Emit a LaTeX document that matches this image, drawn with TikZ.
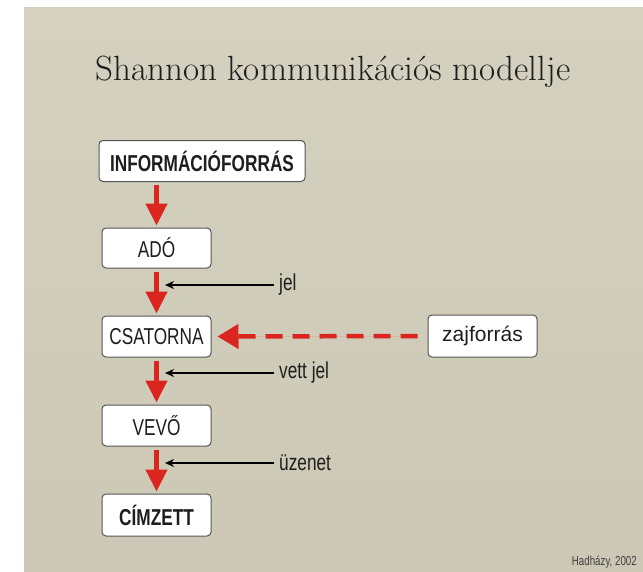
\documentclass[tikz,border=0pt]{standalone}
\usepackage{fontspec}
\usetikzlibrary{arrows.meta}
\newfontfamily\arialfont{Liberation Sans}
\newfontfamily\narrowfont[FakeStretch=0.75]{Liberation Sans}
\definecolor{bgbeige}{RGB}{204,200,181}
\definecolor{bglight}{RGB}{213,209,192}
\definecolor{boxgray}{RGB}{85,85,85}
\definecolor{arrowred}{RGB}{218,38,30}
\definecolor{txtdark}{RGB}{30,30,30}
\begin{document}
\begin{tikzpicture}[x=1pt,y=-1pt,
  box/.style={draw=boxgray, line width=1pt, fill=white, rounded corners=4pt,
    minimum width=109pt, minimum height=41pt, inner sep=0pt, text=txtdark,
    font=\narrowfont\fontsize{23}{23}\selectfont},
  redarrow/.style={draw=arrowred, fill=arrowred, line width=4.5pt,
    -{Triangle[length=22pt,width=21pt]}, shorten <=3pt, shorten >=2pt},
  dasharrow/.style={draw=arrowred, fill=arrowred, line width=4.5pt,
    dash pattern=on 17pt off 10pt,
    -{Triangle[length=21pt,width=24pt]}, shorten <=10pt, shorten >=6pt},
  blackarrow/.style={draw=black, line width=1.5pt, -{Stealth[length=9pt,width=8pt]}},
  lbl/.style={anchor=west, inner sep=0pt, text=txtdark,
    font=\narrowfont\fontsize{23}{23}\selectfont}
]
\useasboundingbox (0,0) rectangle (643,571);
\fill[white] (0,0) rectangle (643,571);
\shade[top color=bglight, bottom color=bgbeige] (24,7) rectangle (643,571);

% title
\node[anchor=base, inner sep=0pt, text=txtdark, font=\fontsize{35}{35}\selectfont]
  (title) at (333,80) {Shannon kommunikációs modellje};

% boxes
\node[box, minimum width=206pt, font=\narrowfont\bfseries\fontsize{23}{23}\selectfont] (info) at (202,161) {INFORMÁCIÓFORRÁS};
\node[box, minimum height=40pt] (ado) at (156.5,248) {ADÓ};
\node[box] (csat) at (156.5,336.5) {CSATORNA};
\node[box] (vevo) at (156.5,425.5) {VEVŐ};
\node[box, minimum height=42pt, font=\narrowfont\bfseries\fontsize{23}{23}\selectfont] (cimz) at (156.5,515) {CÍMZETT};
\node[box, minimum height=42pt, font=\arialfont\fontsize{21}{21}\selectfont] (zaj) at (482.5,336) {zajforrás};

% red arrows
\draw[redarrow] (ado.north |- info.south) -- (ado.north);
\draw[redarrow] (ado.south) -- (csat.north);
\draw[redarrow] (csat.south) -- (vevo.north);
\draw[redarrow] (vevo.south) -- (cimz.north);
\draw[dasharrow] (zaj.west) -- (csat.east);

% labels with black arrows
\node[lbl] (jel) at (279,285) {jel};
\node[lbl] (vett) at (279,373) {vett jel};
\node[lbl] (uzen) at (279,463) {üzenet};
\coordinate (t1) at (165,285);
\coordinate (t2) at (165,373);
\coordinate (t3) at (165,463);
\draw[blackarrow] ([xshift=-5pt]jel.west) -- (t1);
\draw[blackarrow] ([xshift=-5pt]vett.west) -- (t2);
\draw[blackarrow] ([xshift=-5pt]uzen.west) -- (t3);

% credit
\node[anchor=base east, inner sep=0pt, text=txtdark!85,
  font=\narrowfont\fontsize{13}{13}\selectfont] (credit) at (637,565) {Hadházy, 2002};
\end{tikzpicture}
\end{document}
